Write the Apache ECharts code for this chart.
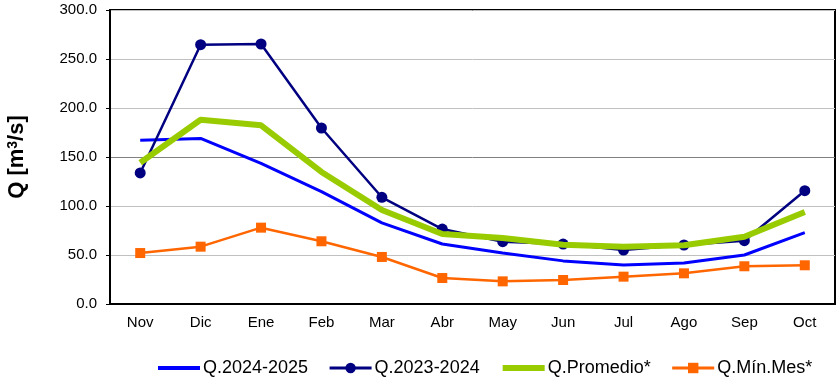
<!DOCTYPE html>
<html>
<head>
<meta charset="utf-8">
<script src="https://cdn.jsdelivr.net/npm/echarts@6/dist/echarts.min.js"></script>
<style>html,body{margin:0;padding:0;background:#fff}#c{width:838px;height:378px}</style>
</head>
<body>
<div id="c"></div>
<script>
var months = ['Nov','Dic','Ene','Feb','Mar','Abr','May','Jun','Jul','Ago','Sep','Oct'];
var q2425 = [167.0, 169.0, 143.5, 114.6, 82.7, 61.2, 52.0, 44.0, 39.8, 41.8, 50.0, 72.8];
var q2324 = [133.7, 264.6, 265.3, 179.6, 108.9, 76.5, 63.6, 61.2, 55.1, 60.2, 64.6, 115.6];
var qProm = [144.2, 188.0, 182.3, 134.7, 95.9, 71.4, 67.3, 60.5, 58.5, 59.9, 68.7, 93.9];
var qMin  = [52.0, 58.5, 77.9, 64.0, 48.0, 26.5, 23.1, 24.5, 27.9, 31.3, 38.5, 39.5];
var seriesNames = ['Q.2024-2025','Q.2023-2024','Q.Promedio*','Q.Mín.Mes*'];

var chart = echarts.init(document.getElementById('c'), null, {renderer:'canvas'});
var font = 'Arial, "Liberation Sans", sans-serif';
chart.setOption({
  animation:false,
  backgroundColor:'#fff',
  textStyle:{fontFamily:font},
  grid:{left:110,right:3,top:10,bottom:74,show:true,borderColor:'#000',borderWidth:2,backgroundColor:'transparent',containLabel:false,outerBoundsMode:'none'},
  legend:{
    left:151, top:354, itemWidth:42, itemHeight:13, itemGap:20,
    textStyle:{fontSize:18,color:'#000',fontFamily:font,padding:[0,0,0,-2]},
    data:[
      {name:seriesNames[0],itemStyle:{opacity:0},lineStyle:{width:4}},
      {name:seriesNames[1],lineStyle:{width:3}},
      {name:seriesNames[2],itemStyle:{opacity:0},lineStyle:{width:6}},
      {name:seriesNames[3],lineStyle:{width:3}}
    ]
  },
  xAxis:{
    type:'category', data:months, boundaryGap:true,
    axisLine:{lineStyle:{color:'#000',width:2}},
    axisTick:{inside:true,length:5,lineStyle:{color:'#000',width:1.5}},
    axisLabel:{color:'#000',fontSize:15,margin:11,fontFamily:font},
    splitLine:{show:false}
  },
  yAxis:{
    type:'value', min:0, max:300, interval:50,
    name:'{a|Q [m}{s|3}{a|/s]}', nameLocation:'middle', nameGap:82, nameRotate:90,
    nameTextStyle:{rich:{a:{fontSize:22,fontWeight:'bold',color:'#000',fontFamily:font},s:{fontSize:14,fontWeight:'bold',color:'#000',fontFamily:font,verticalAlign:'top'}}},
    axisLine:{show:true,lineStyle:{color:'#000',width:2}},
    axisTick:{show:true,length:4,lineStyle:{color:'#000',width:1}},
    axisLabel:{color:'#000',fontSize:15,margin:13,fontFamily:font,formatter:function(v){return v.toFixed(1);}},
    splitLine:{show:true,lineStyle:{color:['#c0c0c0','#c0c0c0','#c0c0c0','#808080','#c0c0c0','#c0c0c0','#c0c0c0'],width:1}}
  },
  series:[
    {name:seriesNames[0],type:'line',data:q2425,symbol:'none',lineStyle:{color:'#0000FF',width:3},itemStyle:{color:'#0000FF'},z:2},
    {name:seriesNames[1],type:'line',data:q2324,symbol:'circle',symbolSize:11,lineStyle:{color:'#000080',width:2.5},itemStyle:{color:'#000080'},z:3},
    {name:seriesNames[2],type:'line',data:qProm,symbol:'none',lineStyle:{color:'#99CC00',width:6},itemStyle:{color:'#99CC00'},z:4},
    {name:seriesNames[3],type:'line',data:qMin,symbol:'rect',symbolSize:10,lineStyle:{color:'#FF6600',width:2.5},itemStyle:{color:'#FF6600'},z:5}
  ]
});
</script>
</body>
</html>
